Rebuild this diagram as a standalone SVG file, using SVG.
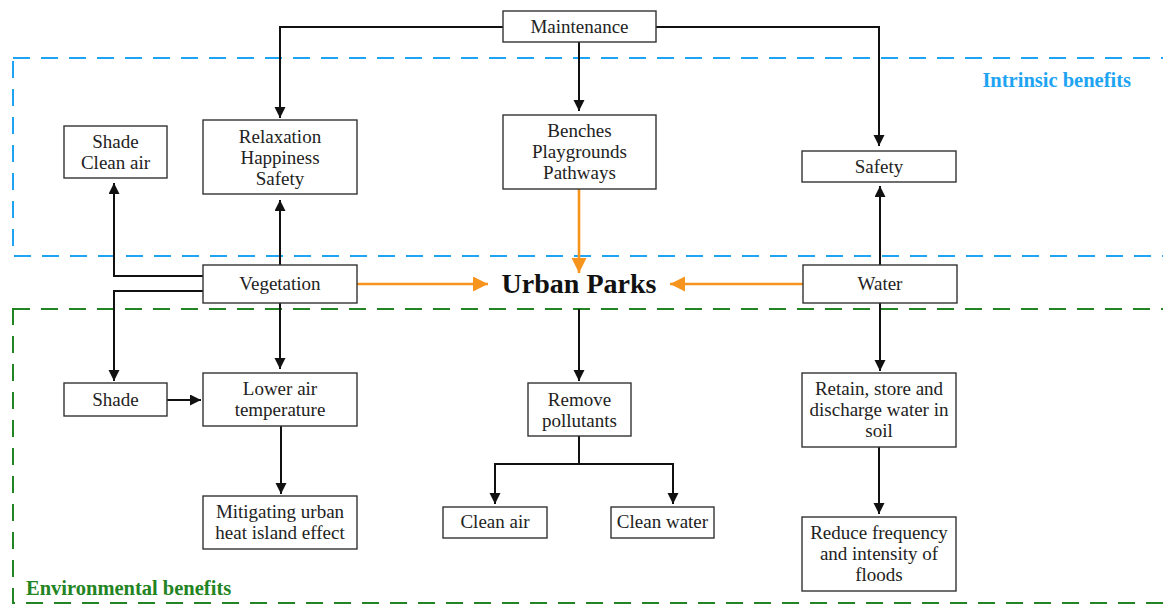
<svg xmlns="http://www.w3.org/2000/svg" width="1163" height="605" viewBox="0 0 1163 605" font-family="Liberation Serif, serif">
<style>
.box{fill:#fff;stroke:#333;stroke-width:1.4}
.t{font-size:19px;fill:#222;text-anchor:middle}
.c{fill:none;stroke:#111;stroke-width:2}
.o{fill:none;stroke:#f7941d;stroke-width:2.6}
.lbl{font-size:20.5px;font-weight:bold}
</style>
<defs>
<marker id="ab" markerUnits="userSpaceOnUse" markerWidth="12" markerHeight="12" refX="11" refY="5.5" orient="auto"><path d="M0,0 L11,5.5 L0,11 z" fill="#111"/></marker>
<marker id="ao" markerUnits="userSpaceOnUse" markerWidth="16" markerHeight="16" refX="15" refY="7.5" orient="auto"><path d="M0,0 L15,7.5 L0,15 z" fill="#f7941d"/></marker>
</defs>
<rect width="1163" height="605" fill="#fff"/>
<g id="regions">
<rect x="13" y="58" width="1170" height="198" fill="none" stroke="#1ea4f2" stroke-width="2" stroke-dasharray="17,11"/>
<rect x="13" y="309" width="1170" height="294" fill="none" stroke="#238423" stroke-width="2" stroke-dasharray="17,11"/>
<text class="lbl" x="1131" y="87" text-anchor="end" fill="#1ea4f2">Intrinsic benefits</text>
<text class="lbl" x="26" y="595" fill="#238423">Environmental benefits</text>
</g>
<g id="connectors">
<path class="c" d="M503,27 H280 V118" marker-end="url(#ab)"/>
<path class="c" d="M656,27 H879 V146" marker-end="url(#ab)"/>
<path class="c" d="M579,42 V111" marker-end="url(#ab)"/>
<path class="c" d="M203,276 H114 V183" marker-end="url(#ab)"/>
<path class="c" d="M280,265 V200" marker-end="url(#ab)"/>
<path class="c" d="M203,291 H114 V381" marker-end="url(#ab)"/>
<path class="c" d="M280,303 V369" marker-end="url(#ab)"/>
<path class="c" d="M167,400 H201" marker-end="url(#ab)"/>
<path class="c" d="M281,426 V494" marker-end="url(#ab)"/>
<path class="c" d="M579,309 V381" marker-end="url(#ab)"/>
<path class="c" d="M579,436 V464 M495,464 H673" />
<path class="c" d="M495,463 V504" marker-end="url(#ab)"/>
<path class="c" d="M673,463 V504" marker-end="url(#ab)"/>
<path class="c" d="M880,265 V186" marker-end="url(#ab)"/>
<path class="c" d="M880,303 V371" marker-end="url(#ab)"/>
<path class="c" d="M879,447 V514" marker-end="url(#ab)"/>
<path class="o" d="M357,284 H488" marker-end="url(#ao)"/>
<path class="o" d="M803,284 H670" marker-end="url(#ao)"/>
<path class="o" d="M579,189 V273" marker-end="url(#ao)"/>
</g>
<g id="urban-parks"><text x="579" y="293" text-anchor="middle" font-size="28" font-weight="bold" fill="#111">Urban Parks</text></g>
<g id="maintenance"><rect class="box" x="503" y="11" width="153" height="31"/><text class="t" x="579.5" y="33">Maintenance</text></g>
<g id="relaxation"><rect class="box" x="203" y="120" width="154" height="74"/><text class="t" x="280" y="143">Relaxation</text><text class="t" x="280" y="164">Happiness</text><text class="t" x="280" y="185">Safety</text></g>
<g id="benches"><rect class="box" x="503" y="115" width="153" height="74"/><text class="t" x="579.5" y="137">Benches</text><text class="t" x="579.5" y="158">Playgrounds</text><text class="t" x="579.5" y="179">Pathways</text></g>
<g id="shade-clean-air"><rect class="box" x="64" y="126" width="103" height="52"/><text class="t" x="115.5" y="148">Shade</text><text class="t" x="115.5" y="169">Clean air</text></g>
<g id="safety"><rect class="box" x="802" y="151" width="154" height="31"/><text class="t" x="879" y="173">Safety</text></g>
<g id="vegetation"><rect class="box" x="203" y="265" width="154" height="38"/><text class="t" x="280" y="290">Vegetation</text></g>
<g id="water"><rect class="box" x="803" y="265" width="154" height="38"/><text class="t" x="880" y="290">Water</text></g>
<g id="shade"><rect class="box" x="64" y="383" width="103" height="33"/><text class="t" x="115.5" y="406">Shade</text></g>
<g id="lower-air"><rect class="box" x="203" y="373" width="154" height="53"/><text class="t" x="280" y="395">Lower air</text><text class="t" x="280" y="416">temperature</text></g>
<g id="mitigating"><rect class="box" x="203" y="496" width="154" height="53"/><text class="t" x="280" y="518">Mitigating urban</text><text class="t" x="280" y="539">heat island effect</text></g>
<g id="remove"><rect class="box" x="528" y="383" width="103" height="53"/><text class="t" x="579.5" y="406">Remove</text><text class="t" x="579.5" y="427">pollutants</text></g>
<g id="clean-air"><rect class="box" x="443" y="507" width="104" height="31"/><text class="t" x="495" y="528">Clean air</text></g>
<g id="clean-water"><rect class="box" x="611" y="507" width="103" height="31"/><text class="t" x="662.5" y="528">Clean water</text></g>
<g id="retain"><rect class="box" x="802" y="373" width="154" height="74"/><text class="t" x="879" y="395">Retain, store and</text><text class="t" x="879" y="416">discharge water in</text><text class="t" x="879" y="437">soil</text></g>
<g id="reduce"><rect class="box" x="802" y="517" width="154" height="74"/><text class="t" x="879" y="539">Reduce frequency</text><text class="t" x="879" y="560">and intensity of</text><text class="t" x="879" y="581">floods</text></g>
</svg>
